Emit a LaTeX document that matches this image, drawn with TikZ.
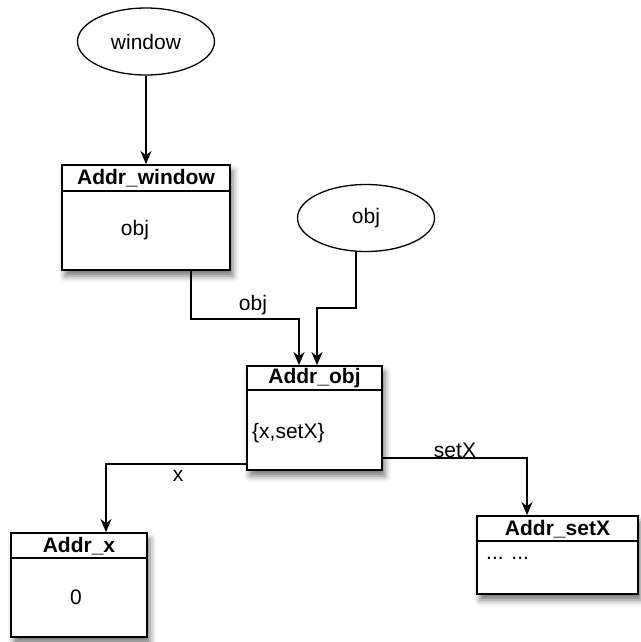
\documentclass[tikz,border=0pt]{standalone}
\usepackage{fontspec}
\setmainfont{Liberation Sans}
\usetikzlibrary{shapes.geometric,shadows.blur,arrows.meta}
\begin{document}
\begin{tikzpicture}[x=1pt,y=-1pt,
  every node/.style={font=\fontsize{21}{25}\selectfont},
  ell/.style={draw, ellipse, line width=1.3pt, inner sep=0, minimum width=137pt, minimum height=67pt},
  box/.style={draw, rectangle, line width=1.8pt, fill=white, inner sep=0,
    blur shadow={shadow xshift=3pt, shadow yshift=-6pt, shadow blur radius=6pt, shadow opacity=55}},
  hdr/.style={font=\fontsize{21}{25}\selectfont\bfseries, inner sep=0},
  txt/.style={inner sep=0},
  sep/.style={line width=1.5pt},
  conn/.style={line width=1.5pt, -{Stealth[length=13pt,width=11pt,inset=4pt]}},
  lbl/.style={inner sep=0}
]
\useasboundingbox (0,0) rectangle (640,642);

% ellipses
\node[ell] (we) at (146,41.5) {window};
\node[ell] (eo) at (366,218) {obj};

% boxes
\node[box, minimum width=168pt, minimum height=105pt] (aw) at (146,217.5) {};
\node[box, minimum width=135pt, minimum height=104pt] (ao) at (314.5,418) {};
\node[box, minimum width=136pt, minimum height=104pt] (ax) at (79,585) {};
\node[box, minimum width=161pt, minimum height=78pt] (as) at (557.5,555) {};

% header separators
\draw[sep] ([yshift=-27pt]aw.north west) -- ([yshift=-27pt]aw.north east);
\draw[sep] ([yshift=-25pt]ao.north west) -- ([yshift=-25pt]ao.north east);
\draw[sep] ([yshift=-26pt]ax.north west) -- ([yshift=-26pt]ax.north east);
\draw[sep] ([yshift=-26pt]as.north west) -- ([yshift=-26pt]as.north east);

% header texts
\node[hdr] (awh) at (146,178.5) {Addr\_window};
\node[hdr] (aoh) at (314.5,378.5) {Addr\_obj};
\node[hdr] (axh) at (79,546) {Addr\_x};
\node[hdr] (ash) at (557.5,529) {Addr\_setX};

% body texts
\node[txt] (awb) at (135,230) {obj};
\node[txt, anchor=west] (aob) at (252,433) {\{x,setX\}};
\node[txt] (axb) at (76,597) {0};
\node[txt, anchor=west] (asb) at (486,558) {... ...};

% connectors
\draw[conn] (we.south) -- (aw.north);
\draw[conn] ([xshift=45pt]aw.south) -- ++(0,48) -| ([xshift=-15.5pt]ao.north);
\draw[conn] ([xshift=-10pt]eo.south) -- ++(0,56) -| ([xshift=2.5pt]ao.north);
\draw[conn] ([yshift=-46pt]ao.west) -| ([xshift=27pt]ax.north);
\draw[conn] ([yshift=-40pt]ao.east) -| ([xshift=-30.5pt]as.north);

% connector labels
\node[lbl] (l1) at (253,305) {obj};
\node[lbl] (l2) at (178,476) {x};
\node[lbl] (l3) at (455,450) {setX};
\end{tikzpicture}
\end{document}
